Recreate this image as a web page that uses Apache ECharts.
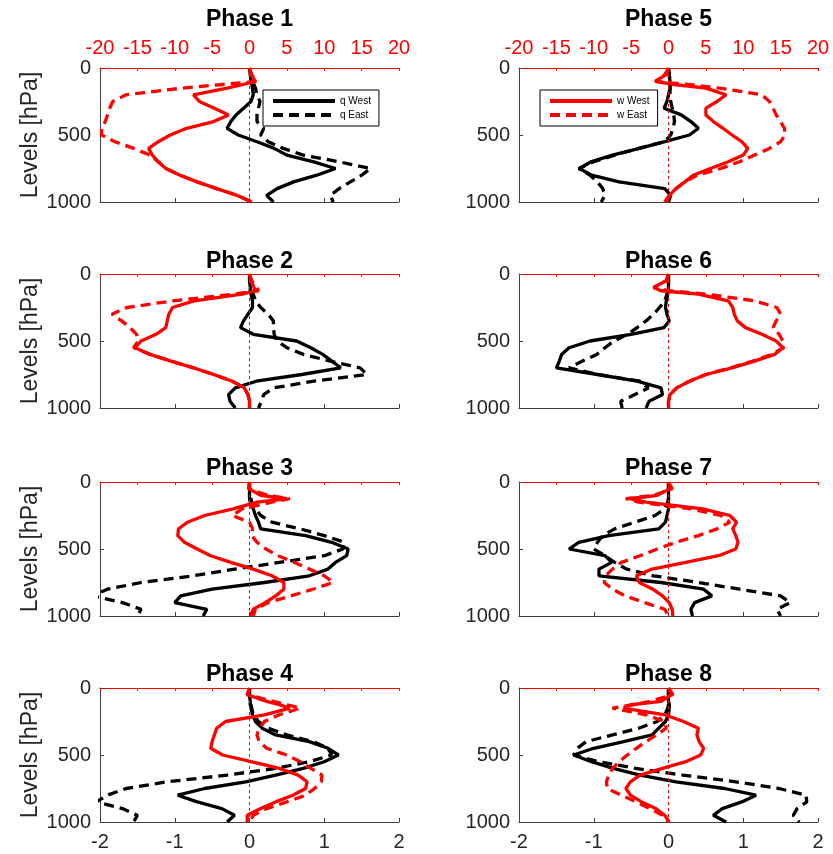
<!DOCTYPE html>
<html>
<head>
<meta charset="utf-8">
<title>Phase profiles</title>
<script src="https://cdn.jsdelivr.net/npm/echarts@6/dist/echarts.min.js"></script>
<style>
  html, body { margin: 0; padding: 0; background: #fff; }
  #main { width: 833px; height: 854px; }
</style>
</head>
<body>
<div id="main"></div>
<script>
// pressure levels [hPa]
const levels = [0, 50, 100, 125, 150, 200, 250, 300, 350, 400, 450, 500, 550, 600, 650, 700, 750, 800, 850, 900, 950, 1000];

// q on the bottom axis (-2..2), w on the top axis (-20..20)
const qWest1 = [0, 0.01, 0.02, 0.03, 0.04, 0.05, 0.02, -0.08, -0.18, -0.25, -0.3, -0.15, 0.1, 0.33, 0.5, 0.86, 1.15, 0.9, 0.59, 0.37, 0.23, 0.32];
const qEast1 = [0, 0.02, 0.05, 0.06, 0.08, 0.1, 0.14, 0.12, 0.1, 0.1, 0.19, 0.15, 0.25, 0.45, 0.72, 1.2, 1.62, 1.5, 1.35, 1.2, 1.08, 1.12];
const wWest1 = [0, 0.2, 0.8, -1, -3, -7.5, -6.7, -4.7, -2.8, -4.8, -8.4, -10.6, -12.2, -13.5, -13, -12.2, -11.2, -9.3, -7, -4.4, -1.7, 0.3];
const wEast1 = [0, 0.3, 1, -4, -9, -16.5, -18.3, -18.7, -19, -19.3, -19.8, -19.8, -18, -15.5, -13.3, -12.2, -11.2, -9.3, -7, -4.4, -1.7, 0.3];

const qWest2 = [0, 0, 0.01, 0.01, 0.02, 0.04, 0.04, -0.02, -0.08, -0.12, 0.05, 0.63, 0.82, 0.98, 1.1, 1.22, 0.7, 0.09, -0.19, -0.28, -0.26, -0.19];
const qEast2 = [0, 0.01, 0.02, 0.03, 0.05, 0.08, 0.15, 0.25, 0.32, 0.32, 0.33, 0.37, 0.5, 0.72, 1.08, 1.48, 1.57, 0.86, 0.32, 0.19, 0.16, 0.12];
const wWest2 = [0, 0.2, 0.6, 0.8, -1, -7.4, -10.3, -10.8, -11, -11.2, -12.5, -14.5, -15.3, -13.3, -10.5, -7.5, -4.8, -2.3, -0.7, -0.2, 0, 0];
const wEast2 = [0, 0.3, 1, 1.2, -2.1, -10.2, -16.4, -18.4, -17.1, -16, -15.1, -14.9, -15.5, -13.3, -10.5, -7.5, -4.8, -2.3, -0.7, -0.2, 0, 0];

const qWest3 = [0, 0, 0, 0, 0.01, 0.05, 0.08, 0.12, 0.15, 0.75, 1.1, 1.32, 1.3, 1.15, 1.05, 0.8, 0.2, -0.5, -0.92, -1.0, -0.57, -0.62];
const qEast3 = [0, 0, 0.01, 0.02, 0.03, 0.08, 0.15, 0.3, 0.68, 1.0, 1.27, 1.25, 1.0, 0.4, -0.2, -0.75, -1.45, -1.9, -2.1, -1.7, -1.45, -1.5];
const wWest3 = [0, -0.1, 1.5, 5, 1, -2.2, -6, -8.3, -9.5, -9.6, -8.7, -7, -5.2, -2.5, 0.5, 3, 4.6, 4.6, 3.5, 2.1, 0.5, 0.1];
const wEast3 = [0, -0.1, 2.5, 5.4, 3, -1, -2.3, 0, 0.4, 0.3, 1, 2.2, 3.8, 6, 8, 10, 11.2, 8.5, 5.5, 2.5, 0.8, 0.5];

const qWest4 = [0, 0, 0.01, 0.01, 0.02, 0.04, 0.08, 0.17, 0.35, 0.8, 1.05, 1.19, 1.0, 0.72, 0.35, -0.05, -0.6, -0.96, -0.7, -0.37, -0.2, -0.3];
const qEast4 = [0, 0, 0.01, 0.02, 0.03, 0.05, 0.12, 0.25, 0.5, 0.85, 1.05, 1.1, 0.8, 0.35, -0.3, -1.1, -1.65, -1.9, -2.05, -1.7, -1.5, -1.55];
const wWest4 = [0, -0.3, 2.3, 4, 5.4, 2, -3.2, -4.4, -4.7, -5, -5.2, -3.6, 0.2, 4, 6.5, 7.7, 7.5, 5.8, 3.5, 1.5, -0.3, -0.3];
const wEast4 = [0, -0.3, 3.2, 5, 6.8, 4, 2, 1.3, 1, 1.3, 2.3, 5, 6.8, 8.2, 9.7, 9.6, 8.7, 7.5, 5, 2.3, 0.5, 0];

const qWest5 = [0, 0.01, 0.02, 0.02, 0.02, 0, -0.02, -0.06, 0.17, 0.3, 0.4, 0.28, -0.05, -0.39, -0.75, -1.04, -1.19, -1.03, -0.66, -0.05, 0.03, 0];
const qEast5 = [0, 0.01, 0.02, 0.02, 0.02, 0.02, 0.03, 0.05, 0.07, 0.08, 0.06, 0.03, -0.05, -0.4, -0.72, -1.0, -1.2, -1.05, -0.95, -0.88, -0.85, -0.9];
const wWest5 = [0, -0.3, -1.8, 1, 5, 7.7, 6.5, 5, 5, 6, 7.3, 8.5, 9.8, 10.6, 10, 8, 5.6, 3.3, 2.2, 1.0, 0.1, -0.5];
const wEast5 = [0, -0.5, -1.7, 3, 6.8, 12.5, 13.5, 14, 14.4, 15, 15.5, 15.6, 15, 13.5, 11.5, 9.5, 7, 3.8, 2.2, 1.0, 0.2, -0.3];

const qWest6 = [0, 0, 0, 0, -0.01, -0.03, -0.04, -0.02, 0.01, -0.06, -0.5, -1.05, -1.33, -1.43, -1.46, -1.5, -0.95, -0.42, -0.1, -0.08, -0.26, -0.3];
const qEast6 = [0, 0, 0, -0.01, -0.02, -0.05, -0.12, -0.2, -0.3, -0.42, -0.55, -0.73, -0.85, -0.96, -1.15, -1.33, -0.95, -0.38, -0.27, -0.45, -0.64, -0.62];
const wWest6 = [0, -0.3, -2, -1, 4, 8, 8.6, 8.8, 9.2, 10.3, 12.5, 14.4, 15.3, 14.2, 11.5, 8.5, 5, 2.8, 1.1, 0.2, 0, 0];
const wEast6 = [0, -0.3, -2, 0, 5, 11.5, 14.5, 15, 14.4, 14, 14.8, 15.3, 15.4, 13.8, 11.3, 8.3, 5, 2.8, 1.1, 0.2, 0, 0];

const qWest7 = [0, 0, 0, 0, 0, 0, -0.02, -0.04, -0.13, -0.8, -1.2, -1.33, -0.85, -0.76, -0.93, -0.93, -0.1, 0.47, 0.58, 0.35, 0.3, 0.32];
const qEast7 = [0, 0, 0, 0, -0.01, -0.05, -0.18, -0.45, -0.72, -0.88, -0.95, -1.0, -0.85, -0.72, -0.56, -0.2, 0.4, 0.95, 1.5, 1.63, 1.45, 1.5];
const wWest7 = [0, 0.2, -1.5, -5.2, -3, 4.6, 8.2, 9.1, 8.6, 9, 9.3, 9, 6.7, 2.3, -2.2, -4.3, -3.9, -2.1, -0.8, 0.1, 0.5, 0.6];
const wEast7 = [0, 0.5, -2, -5.7, -4, 3, 7, 8.2, 6.5, 4, 1, -1.5, -3.8, -6.3, -7.5, -8.4, -8.6, -7.5, -5.8, -3.2, -0.5, 0];

const qWest8 = [0, 0, 0, 0.01, 0.01, 0, -0.04, -0.13, -0.22, -0.6, -1.0, -1.27, -1.03, -0.74, -0.38, 0.1, 0.75, 1.17, 0.98, 0.72, 0.6, 0.77];
const qEast8 = [0, 0, 0, 0, -0.01, -0.05, -0.15, -0.4, -0.75, -1.1, -1.22, -1.27, -0.93, -0.44, 0.19, 0.9, 1.48, 1.84, 1.85, 1.72, 1.67, 1.75];
const wWest8 = [0, 0.4, -1, -5, -6, -0.5, 2, 4, 3.8, 4.1, 4.7, 4.3, 2.3, -0.8, -3.8, -5.1, -5.7, -5.1, -3.6, -1.7, -0.5, 0.1];
const wEast8 = [0, 0.6, -2.5, -4.8, -7.5, -3, -0.5, -0.3, -1.6, -3, -4.3, -5.5, -6.6, -7.5, -8, -8.3, -8.2, -6.3, -4.3, -2.5, -0.8, 0];

const phaseNames = ['Phase 1', 'Phase 2', 'Phase 3', 'Phase 4', 'Phase 5', 'Phase 6', 'Phase 7', 'Phase 8'];
const qTicks = [-2, 2, 1];     // min, max, step
const wTicks = [-20, 20, 5];

const panels = [
  [qWest1, qEast1, wWest1, wEast1], [qWest2, qEast2, wWest2, wEast2],
  [qWest3, qEast3, wWest3, wEast3], [qWest4, qEast4, wWest4, wEast4],
  [qWest5, qEast5, wWest5, wEast5], [qWest6, qEast6, wWest6, wEast6],
  [qWest7, qEast7, wWest7, wEast7], [qWest8, qEast8, wWest8, wEast8]
];

// layout of the 4x2 panels
const colLeft = [100, 519];
const panelW = 299;
const rowTop = [68, 274, 482, 688];
const panelH = 134;
const titleTop = [8, 250, 457, 663];

const axisGray = '#404040';
const textGray = '#262626';
const red = '#ff0000';
const dash = [10, 6];

const toPairs = (vals) => vals.map((v, k) => [v, levels[k]]);
const plain = (v) => String(v);

const grids = [], xAxes = [], yAxes = [], series = [], titles = [];

panels.forEach(function (p, i) {
  const col = i < 4 ? 0 : 1;
  const row = i % 4;
  grids.push({ left: colLeft[col], top: rowTop[row], width: panelW, height: panelH });

  titles.push({
    text: phaseNames[i], left: colLeft[col] + panelW / 2, top: titleTop[row], textAlign: 'center', padding: 0,
    textStyle: { fontSize: 23, fontWeight: 'bold', color: '#000' }
  });

  // bottom axis: q
  xAxes.push({
    gridIndex: i, type: 'value', position: 'bottom', min: qTicks[0], max: qTicks[1], interval: qTicks[2],
    axisLine: { show: true, onZero: false, lineStyle: { color: axisGray, width: 1 } },
    axisTick: { show: true, inside: true, length: 4, lineStyle: { color: axisGray } },
    axisLabel: { show: row === 3, fontSize: 20, color: textGray, margin: 10, formatter: plain },
    splitLine: { show: false }
  });
  // top axis: w
  xAxes.push({
    gridIndex: i, type: 'value', position: 'top', min: wTicks[0], max: wTicks[1], interval: wTicks[2],
    axisLine: { show: true, onZero: false, lineStyle: { color: red, width: 1 } },
    axisTick: { show: true, inside: true, length: 3, lineStyle: { color: red } },
    axisLabel: { show: row === 0, fontSize: 20, color: red, margin: 10, formatter: plain },
    splitLine: { show: false }
  });
  yAxes.push({
    gridIndex: i, type: 'value', inverse: true, min: 0, max: 1000, interval: 500,
    name: col === 0 ? 'Levels [hPa]' : '', nameLocation: 'middle', nameRotate: 90, nameGap: 56,
    nameTextStyle: { fontSize: 23, color: textGray },
    axisLine: { show: true, onZero: false, lineStyle: { color: axisGray, width: 1 } },
    axisTick: { show: true, inside: true, length: 4, lineStyle: { color: axisGray } },
    axisLabel: { fontSize: 20, color: textGray, margin: 9, formatter: plain },
    splitLine: { show: false }
  });

  const names = ['q West', 'q East', 'w West', 'w East'];
  p.forEach(function (vals, s) {
    const isW = s >= 2;
    const item = {
      name: names[s], type: 'line', symbol: 'none', animation: false,
      xAxisIndex: isW ? 2 * i + 1 : 2 * i, yAxisIndex: i,
      lineStyle: { color: isW ? red : '#000', width: 3.3, type: s % 2 === 0 ? 'solid' : dash },
      itemStyle: { color: isW ? red : '#000' },
      data: toPairs(vals), z: isW ? 3 : 2
    };
    if (s === 2) {
      item.markLine = {
        silent: true, symbol: ['none', 'none'], label: { show: false }, animation: false,
        lineStyle: { color: red, type: [3, 3], width: 1 },
        data: [{ xAxis: 0 }]
      };
    }
    series.push(item);
  });
});

const legendBase = {
  orient: 'vertical', itemWidth: 62, itemHeight: 8, itemGap: 4, padding: [6, 8, 6, 8],
  borderColor: '#000', borderWidth: 1, backgroundColor: '#fff',
  itemStyle: { opacity: 0 },
  lineStyle: { width: 4 },
  textStyle: { fontSize: 10, color: '#000' }, selectedMode: false
};

var myChart = echarts.init(document.getElementById('main'));
myChart.setOption({
  backgroundColor: '#fff',
  animation: false,
  textStyle: { fontFamily: '"Liberation Sans", Arial, Helvetica, sans-serif' },
  title: titles,
  legend: [
    Object.assign({ data: ['q West', 'q East'], left: 263, top: 90 }, legendBase),
    Object.assign({ data: ['w West', 'w East'], left: 540, top: 90 }, legendBase)
  ],
  grid: grids,
  xAxis: xAxes,
  yAxis: yAxes,
  series: series
});
</script>
</body>
</html>
